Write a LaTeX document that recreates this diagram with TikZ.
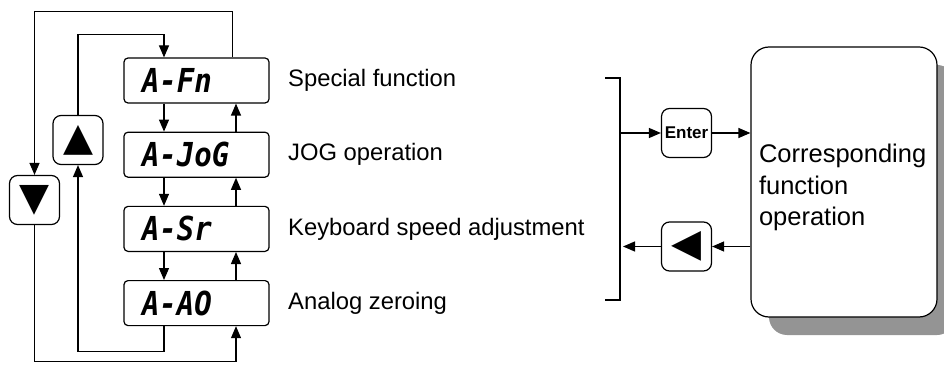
\documentclass[tikz,border=0pt]{standalone}
\usepackage{fontspec}
\setmainfont{Liberation Sans}
\newfontfamily\symfont{DejaVu Sans}
\newfontfamily\segfont[FakeStretch=0.88]{DejaVu Sans Mono}
\usetikzlibrary{positioning, arrows.meta, shadows}

\begin{document}
\begin{tikzpicture}[
    x=1pt, y=-1pt,
    node distance=28pt,
    line width=1.2pt,
    disp/.style={draw, rounded corners=4pt, align=left,
                 font=\segfont\bfseries\itshape\fontsize{33}{33}\selectfont,
                 inner xsep=18pt, text width=109pt, minimum height=45pt},
    key/.style={draw, rounded corners=8pt, minimum width=50pt,
                minimum height=49pt, inner sep=0pt},
    arrowkey/.style={key, font=\symfont\fontsize{39}{39}\selectfont},
    lbl/.style={right=18pt of #1, inner sep=0pt,
                font=\fontsize{23.8}{28}\selectfont},
    flow/.style={-{Triangle[length=12pt, width=10pt]}},
]
\useasboundingbox (0,0) rectangle (944,371);

% mode menu
\node[disp] (fn) at (196.5,80.5) {A-Fn};
\node[disp, below=of fn] (jog) {A-JoG};
\node[disp, below=of jog] (sr) {A-Sr};
\node[disp, below=of sr] (ao) {A-AO};

\node[lbl=fn] {Special function};
\node[lbl=jog] {JOG operation};
\node[lbl=sr] {Keyboard speed adjustment};
\node[lbl=ao] {Analog zeroing};

% up / down keys
\node[arrowkey] (up) at (78,140) {▲};
\node[arrowkey] (down) at (34.5,200) {▼};

\foreach \a/\b in {fn/jog, jog/sr, sr/ao} {
  \draw[flow] ([xshift=-32.5pt]\a.south) -- ([xshift=-32.5pt]\b.north);
  \draw[flow] ([xshift=39.5pt]\b.north) -- ([xshift=39.5pt]\a.south);
}
\draw[flow] ([xshift=-32.5pt]ao.south) -- ++(0,25) -| (up.south);
\draw[flow] (up.north) -- ++(0,-80) -| ([xshift=-32.5pt]fn.north);
\draw[flow] (down.south) -- ++(0,136) -| ([xshift=39.5pt]ao.south);
\draw[flow] ([xshift=36pt]fn.north) -- ++(0,-46) -| (down.north);

% right side
\coordinate (brtop) at (620,78);
\coordinate (brbot) at (620,300);
\draw ([xshift=-15pt]brtop) -- (brtop) -- (brbot) -- ([xshift=-15pt]brbot);

\node[key, font=\bfseries\fontsize{17}{17}\selectfont] (enter) at (686.5,133) {Enter};
\node[arrowkey] (back) at (686.5,246.5) {◀};
\node[draw, rounded corners=18pt, minimum width=186pt, minimum height=270pt,
      fill=white, drop shadow={shadow xshift=18pt, shadow yshift=-18pt,
      fill=black!42, opacity=1},
      align=left, text width=170pt, inner xsep=8pt,
      font=\fontsize{25.5}{31.5}\selectfont] (func) at (844,182)
   {\\[-2pt]Corresponding\\ function\\ operation};

\draw[flow] (brtop |- enter.west) -- (enter.west);
\draw[flow] (enter.east) -- (enter.east -| func.west);
\draw[flow] (back.east -| func.west) -- (back.east);
\draw[flow, shorten >=3pt] (back.west) -- (back.west -| brtop);
\end{tikzpicture}
\end{document}
